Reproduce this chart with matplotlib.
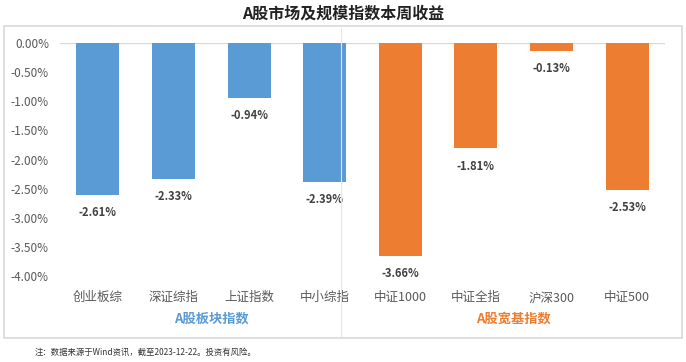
import matplotlib.pyplot as plt
from matplotlib.patches import Rectangle
from matplotlib.lines import Line2D

plt.rcParams['font.family'] = ['Noto Sans CJK SC', 'DejaVu Sans']

# data
categories = ["创业板综", "深证综指", "上证指数", "中小综指", "中证1000", "中证全指", "沪深300", "中证500"]
returns = [-2.61, -2.33, -0.94, -2.39, -3.66, -1.81, -0.13, -2.53]
groups = ["A股板块指数", "A股宽基指数"]
group_sizes = [4, 4]
yticks = [0, -0.5, -1.0, -1.5, -2.0, -2.5, -3.0, -3.5, -4.0]

blue = "#5B9BD5"
orange = "#ED7D31"
colors = [blue] * group_sizes[0] + [orange] * group_sizes[1]

fig = plt.figure(figsize=(6.86, 3.62), dpi=100)
W, H = 686, 362

# outer frame and divider
fig.add_artist(Rectangle((4 / W, 1 - 338 / H), 678 / W, 312 / H, transform=fig.transFigure,
                         fill=False, edgecolor="#D9D9D9", linewidth=1.2))
fig.add_artist(Line2D([341 / W, 341 / W], [1 - 336 / H, 1 - 28 / H], transform=fig.transFigure,
                      color="#E6E6E6", linewidth=0.8))

ax = fig.add_axes([60 / W, 1 - 276 / H, 605 / W, 233 / H])
x = range(len(categories))
ax.bar(x, returns, width=0.57, color=colors, zorder=2)
ax.set_ylim(-4, 0)
ax.set_xlim(-0.5, len(categories) - 0.5)
ax.axhline(0, color="#D9D9D9", linewidth=1, zorder=1)

for s in ax.spines.values():
    s.set_visible(False)
ax.set_yticks(yticks)
ax.set_yticklabels([f"{v:.2f}%" for v in yticks], color="#595959", fontsize=8.5)
ax.tick_params(axis="y", length=0, pad=8)
ax.set_xticks(list(x))
ax.set_xticklabels(categories, color="#595959", fontsize=9)
ax.tick_params(axis="x", length=0, pad=11)

for i, v in enumerate(returns):
    ax.annotate(f"{v:.2f}%", (i, v), xytext=(0, -8), textcoords="offset points",
                ha="center", va="top", fontsize=8, fontweight="bold", color="#404040")

# group labels
start = 0
group_colors = [blue, orange]
for g, n, c in zip(groups, group_sizes, group_colors):
    center = start + (n - 1) / 2
    ax.annotate(g, (center, 0), xycoords=("data", "axes fraction"), xytext=(0, -31),
                textcoords="offset points", ha="center", va="center",
                fontsize=9.5, fontweight="bold", color=c)
    start += n

fig.text(0.5, 1 - 14 / H, "A股市场及规模指数本周收益", ha="center", va="center",
         fontsize=11.5, fontweight="bold", color="#222222")
fig.text(35 / W, 1 - 352 / H, "注：数据来源于Wind资讯，截至2023-12-22。投资有风险。",
         ha="left", va="center", fontsize=6, color="#333333")

fig.savefig("out.png", dpi=100)
